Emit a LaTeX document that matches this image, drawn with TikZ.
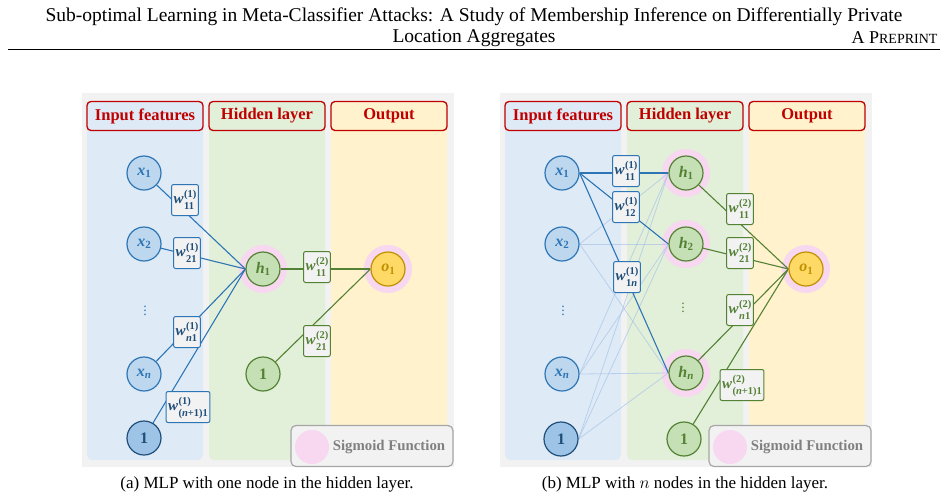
\documentclass[tikz,border=0pt]{standalone}
\usepackage{fontspec}
\setmainfont{Liberation Serif}
\usetikzlibrary{backgrounds}
\pgfdeclarelayer{mid}
\pgfsetlayers{background,mid,main}
\definecolor{gbg}{HTML}{F2F2F2}
\definecolor{cblue}{HTML}{DEEBF7}
\definecolor{cgreen}{HTML}{E2F0D9}
\definecolor{cyel}{HTML}{FFF2CC}
\definecolor{hred}{HTML}{C00000}
\definecolor{nblue}{HTML}{BDD7EE}
\definecolor{bblue}{HTML}{2E75B6}
\definecolor{dblue}{HTML}{1F4E79}
\definecolor{bfill}{HTML}{9DC3E6}
\definecolor{ngreen}{HTML}{C5E0B4}
\definecolor{bgreen}{HTML}{548235}
\definecolor{nyel}{HTML}{FFD966}
\definecolor{byel}{HTML}{BF9000}
\definecolor{pink}{HTML}{F8D7F1}
\definecolor{lblue}{HTML}{A9C4E8}
\newcommand{\vlab}[2]{\textbf{\textit{#1}}\raisebox{-0.35ex}{\fontsize{11}{11}\selectfont\bfseries #2}}
\newcommand{\wlab}[2]{\textbf{\textit{w}}\hspace{0.5pt}\begin{tabular}[c]{@{}l@{}}\fontsize{10.5}{10}\selectfont\bfseries(#1)\\[-3pt]\fontsize{10.5}{10}\selectfont\bfseries #2\end{tabular}}
\tikzset{
 col/.style={rounded corners=5pt},
 hdr/.style={draw=hred,line width=1.3pt,rounded corners=4pt,text=hred,font=\fontsize{16.5}{18}\selectfont\bfseries,minimum width=116pt,minimum height=29pt},
 nd/.style={circle,line width=1.2pt,minimum size=34pt,inner sep=0pt,font=\fontsize{16}{18}\selectfont},
 inn/.style={nd,draw=bblue,fill=nblue,text=bblue},
 bin/.style={nd,draw=dblue,fill=bfill,text=dblue,font=\fontsize{16}{18}\selectfont\bfseries},
 hid/.style={nd,draw=bgreen,fill=ngreen,text=bgreen},
 outn/.style={nd,draw=byel,fill=nyel,text=byel},
 halo/.style={circle,fill=pink,minimum size=48pt,inner sep=0pt},
 wb/.style={draw=bblue,fill=gbg,line width=1pt,rounded corners=2pt,text=dblue,inner sep=2pt,font=\fontsize{15}{15}\selectfont},
 wg/.style={draw=bgreen,fill=gbg,line width=1pt,rounded corners=2pt,text=bgreen,inner sep=2pt,font=\fontsize{15}{15}\selectfont},
 lb/.style={bblue,line width=1.1pt},
 lf/.style={lblue,line width=0.8pt,opacity=0.7},
 lg/.style={bgreen,line width=1.1pt},
 dots/.style={font=\fontsize{14}{14}\selectfont},
}
\begin{document}
\begin{tikzpicture}[x=1pt,y=-1pt]
\useasboundingbox (0,0) rectangle (948,499);
\node[font=\fontsize{19.5}{22}\selectfont] (t1) at (474,17) {Sub-optimal Learning in Meta-Classifier Attacks: A Study of Membership Inference on Differentially Private};
\node[font=\fontsize{19.5}{22}\selectfont] (t2) at (474,38) {Location Aggregates};
\node[font=\fontsize{18}{20}\selectfont,anchor=east] (t3) at (941,38) {A P\fontsize{14}{16}\selectfont REPRINT};
\draw[line width=0.5pt] (8,49) -- (940,49);
\begin{pgfonlayer}{background}
\foreach \ox/\nm in {0/a,418/b}{
\begin{scope}[xshift=\ox pt]
 \fill[gbg] (82,93) rectangle (454,467);
 \fill[cblue,col] (87,104) rectangle (203,460);
 \fill[cgreen,col] (209,104) rectangle (325,460);
 \fill[cyel,col] (331,104) rectangle (447,460);
\end{scope}}
\node[halo] (ha1) at (263,269) {};
\node[halo] (hao) at (388,269) {};
\node[halo] (hb1) at (686,173) {};
\node[halo] (hb2) at (686,244) {};
\node[halo] (hbn) at (686,373) {};
\node[halo] (hbo) at (806,269) {};
\end{pgfonlayer}
\foreach \ox/\nm in {0/a,418/b}{
\begin{scope}[xshift=\ox pt]
 \node[hdr,fill=cblue] (hi\nm) at (145,116) {Input features};
 \node[hdr,fill=cgreen] (hh\nm) at (267,116) {Hidden layer};
 \node[hdr,fill=cyel] (ho\nm) at (389,116) {Output};
 \node[draw=gray!70,line width=1.2pt,fill=gbg,rounded corners=5pt,minimum width=162pt,minimum height=41pt] (sg\nm) at (372,446) {};
 \node[circle,fill=pink,minimum size=34pt] (sc\nm) at (312,447) {};
 \node[text=gray,font=\fontsize{14.8}{16}\selectfont\bfseries] (st\nm) at (389,447) {Sigmoid Function};
\end{scope}}
% ---------- (a)
\node[inn] (ax1) at (144,173) {\vlab{x}{1}};
\node[inn] (ax2) at (144,244) {\vlab{x}{2}};
\node[dots,text=bblue] (axd) at (145,308) {$\vdots$};
\node[inn] (axn) at (144,374) {\vlab{x}{\textit{n}}};
\node[bin] (ab) at (144,438) {1};
\node[hid] (ah1) at (263,269) {\vlab{h}{1}};
\node[hid,font=\fontsize{16}{18}\selectfont\bfseries] (ahb) at (263,374) {1};
\node[outn] (ao) at (388,269) {\vlab{o}{1}};
\begin{pgfonlayer}{mid}
\draw[lb] (ax1) -- (ah1.west); \draw[lb] (ax2) -- (ah1.west); \draw[lb] (axn) -- (ah1.west); \draw[lb] (ab) -- (ah1.west);
\draw[lg] (ah1) -- (ao); \draw[lg] (ahb) -- (ao.west);
\end{pgfonlayer}
\node[wb] (aw1) at (185,200) {\wlab{1}{11}};
\node[wb] (aw2) at (187,253) {\wlab{1}{21}};
\node[wb] (aw3) at (187,332) {\wlab{1}{\textit{n}1}};
\node[wb] (aw4) at (188,407) {\wlab{1}{(\textit{n}+1)1}};
\node[wg] (aw5) at (317,267) {\wlab{2}{11}};
\node[wg] (aw6) at (317,341) {\wlab{2}{21}};
% ---------- (b)
\node[inn] (bx1) at (562,173) {\vlab{x}{1}};
\node[inn] (bx2) at (562,244) {\vlab{x}{2}};
\node[dots,text=bblue] (bxd) at (563,308) {$\vdots$};
\node[inn] (bxn) at (562,374) {\vlab{x}{\textit{n}}};
\node[bin] (bb) at (561,439) {1};
\node[hid] (bh1) at (686,173) {\vlab{h}{1}};
\node[hid] (bh2) at (686,244) {\vlab{h}{2}};
\node[dots,text=bgreen] (bhd) at (683,305) {$\vdots$};
\node[hid] (bhn) at (686,373) {\vlab{h}{\textit{n}}};
\node[hid,font=\fontsize{16}{18}\selectfont\bfseries] (bhb) at (684,439) {1};
\node[outn] (bo) at (806,269) {\vlab{o}{1}};
\begin{pgfonlayer}{mid}
\foreach \s in {bx2,bxn,bb}{\foreach \t in {bh1,bh2,bhn}{\draw[lf] (\s.east) -- (\t.west);}}
\foreach \t in {bh1,bh2,bhn}{\draw[lb] (bx1.east) -- (\t.west);}
\foreach \s in {bh1,bh2,bhn,bhb}{\draw[lg] (\s) -- (bo.west);}
\end{pgfonlayer}
\node[wb] (bw1) at (626,171) {\wlab{1}{11}};
\node[wb] (bw2) at (626,207) {\wlab{1}{12}};
\node[wb] (bw3) at (627,277) {\wlab{1}{1\textit{n}}};
\node[wg] (bw4) at (740,209) {\wlab{2}{11}};
\node[wg] (bw5) at (740,253) {\wlab{2}{21}};
\node[wg] (bw6) at (740,310) {\wlab{2}{\textit{n}1}};
\node[wg] (bw7) at (742,385) {\wlab{2}{(\textit{n}+1)1}};
% captions
\node[font=\fontsize{17}{19}\selectfont] (ca) at (267,484) {(a) MLP with one node in the hidden layer.};
\node[font=\fontsize{17}{19}\selectfont] (cb) at (685,484) {(b) MLP with $n$ nodes in the hidden layer.};
\end{tikzpicture}
\end{document}
